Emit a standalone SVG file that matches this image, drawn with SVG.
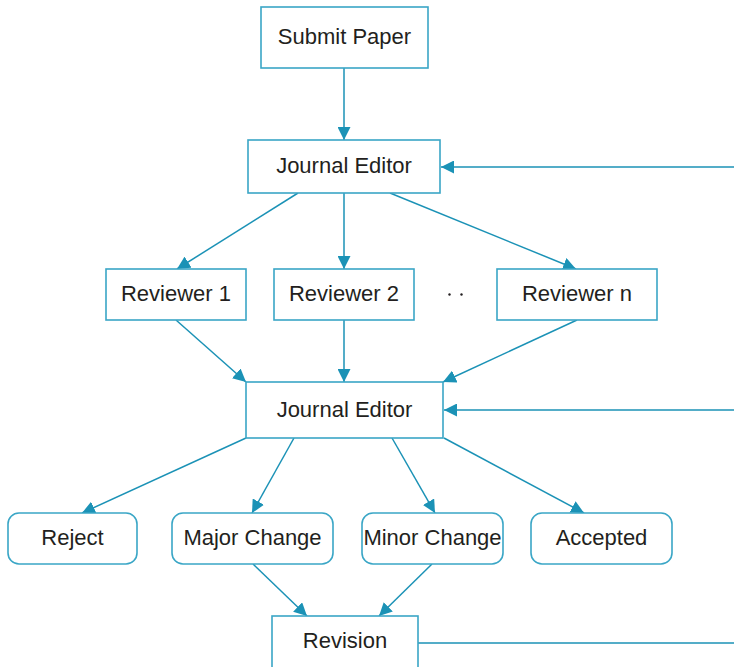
<svg xmlns="http://www.w3.org/2000/svg" width="734" height="667" viewBox="0 0 734 667">
  <style>
    .box { fill: #ffffff; stroke: #3aa6c6; stroke-width: 1.6; }
    .lbl { font-family: "Liberation Sans", Arial, sans-serif; font-size: 22px; fill: #231f20; text-anchor: middle; }
    .edge { stroke: #1b92b6; stroke-width: 1.5; fill: none; }
    .arr { marker-end: url(#head); }
  </style>
  <defs>
    <marker id="head" viewBox="0 0 13 13" refX="13" refY="6.5" markerWidth="13" markerHeight="13" markerUnits="userSpaceOnUse" orient="auto">
      <path d="M0,0 L13,6.5 L0,13 Z" fill="#1b92b6"/>
    </marker>
  </defs>

  <g id="connectors">
    <line class="edge arr" x1="344" y1="68" x2="344" y2="140"/>
    <line class="edge arr" x1="734" y1="167" x2="441" y2="167"/>
    <line class="edge arr" x1="298" y1="193" x2="177" y2="269"/>
    <line class="edge arr" x1="344" y1="193" x2="344" y2="269"/>
    <line class="edge arr" x1="390" y1="193" x2="576" y2="269"/>
    <line class="edge arr" x1="176" y1="320" x2="246" y2="382"/>
    <line class="edge arr" x1="344" y1="320" x2="344" y2="382"/>
    <line class="edge arr" x1="577" y1="320" x2="443" y2="382"/>
    <line class="edge arr" x1="734" y1="410" x2="444" y2="410"/>
    <line class="edge arr" x1="246" y1="438" x2="82" y2="513"/>
    <line class="edge arr" x1="294" y1="438" x2="252" y2="513"/>
    <line class="edge arr" x1="392" y1="438" x2="435" y2="513"/>
    <line class="edge arr" x1="444" y1="438" x2="584" y2="513"/>
    <line class="edge arr" x1="253" y1="564" x2="307" y2="616"/>
    <line class="edge arr" x1="432" y1="564" x2="379" y2="616"/>
    <line class="edge" x1="418" y1="643" x2="734" y2="643"/>
  </g>

  <g id="submit-paper">
    <rect class="box" x="261" y="7" width="167" height="61"/>
    <text class="lbl" x="344.5" y="44">Submit Paper</text>
  </g>
  <g id="journal-editor-1">
    <rect class="box" x="248" y="140" width="192" height="53"/>
    <text class="lbl" x="344" y="173">Journal Editor</text>
  </g>
  <g id="reviewer-1">
    <rect class="box" x="106" y="269" width="140" height="51"/>
    <text class="lbl" x="176" y="301">Reviewer 1</text>
  </g>
  <g id="reviewer-2">
    <rect class="box" x="274" y="269" width="140" height="51"/>
    <text class="lbl" x="344" y="301">Reviewer 2</text>
  </g>
  <g id="ellipsis">
    <circle cx="449.5" cy="294.5" r="1.2" fill="#231f20"/>
    <circle cx="461.5" cy="294.5" r="1.2" fill="#231f20"/>
  </g>
  <g id="reviewer-n">
    <rect class="box" x="497" y="269" width="160" height="51"/>
    <text class="lbl" x="577" y="301">Reviewer n</text>
  </g>
  <g id="journal-editor-2">
    <rect class="box" x="246" y="382" width="197" height="56"/>
    <text class="lbl" x="344.5" y="417">Journal Editor</text>
  </g>
  <g id="reject">
    <rect class="box" x="8" y="513" width="129" height="51" rx="11"/>
    <text class="lbl" x="72.5" y="545">Reject</text>
  </g>
  <g id="major-change">
    <rect class="box" x="172" y="513" width="161" height="51" rx="11"/>
    <text class="lbl" x="252.5" y="545">Major Change</text>
  </g>
  <g id="minor-change">
    <rect class="box" x="362" y="513" width="141" height="51" rx="11"/>
    <text class="lbl" x="432.5" y="545">Minor Change</text>
  </g>
  <g id="accepted">
    <rect class="box" x="531" y="513" width="141" height="51" rx="11"/>
    <text class="lbl" x="601.5" y="545">Accepted</text>
  </g>
  <g id="revision">
    <rect class="box" x="272" y="616" width="146" height="60"/>
    <text class="lbl" x="345" y="648">Revision</text>
  </g>
</svg>
